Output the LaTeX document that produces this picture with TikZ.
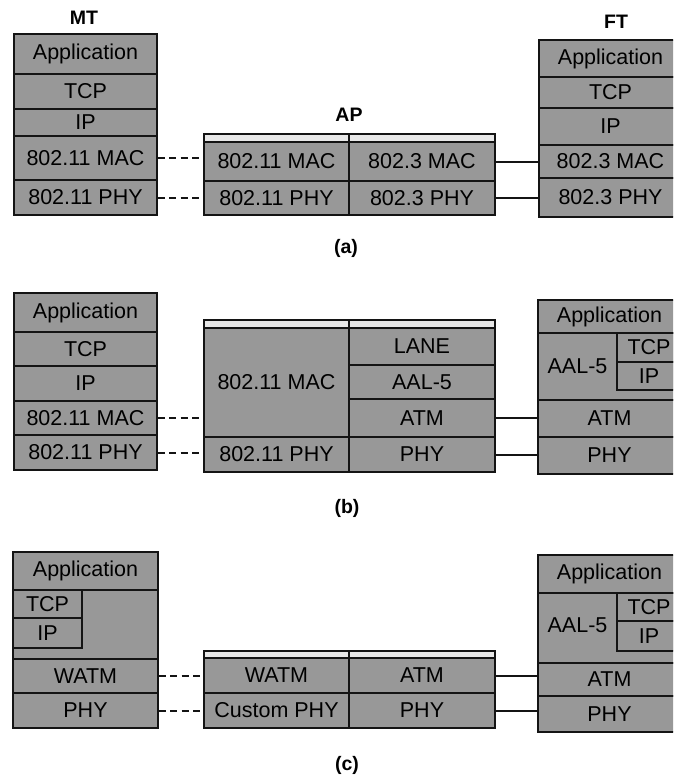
\documentclass[tikz,border=0pt]{standalone}
\usepackage{fontspec}
\setmainfont{Liberation Sans}
\definecolor{boxgray}{RGB}{152,152,152}
\definecolor{stripgray}{RGB}{232,232,232}
\definecolor{inkline}{RGB}{20,20,20}
\newcommand\mycell[7][cell]{%
  \pgfmathsetmacro\mycw{#5-#3}\pgfmathsetmacro\mych{#6-#4}%
  \node[#1, minimum width=\mycw pt, minimum height=\mych pt] (#2) at ({(#3+#5)/2},{(#4+#6)/2}) {#7};}
\begin{document}
\begin{tikzpicture}[x=1pt,y=-1pt,
  cell/.style={draw=inkline, line width=1.3pt, fill=boxgray, inner sep=0pt,
    font=\fontsize{21.5}{25}\selectfont, text=black},
  strip/.style={draw=inkline, line width=1.3pt, fill=stripgray, inner sep=0pt},
  lbl/.style={font=\bfseries\fontsize{19.5}{23}\selectfont, inner sep=0pt},
  celltext/.style={font=\fontsize{21.5}{25}\selectfont, text=black, inner sep=0pt},
  wireless/.style={line width=2pt, draw=inkline, dash pattern=on 7pt off 4.5pt},
  wired/.style={line width=2pt, draw=inkline}]
\useasboundingbox (0,0) rectangle (673,779);
\clip (0,0) rectangle (673,779);
\fill[white] (0,0) rectangle (673,779);

% ---------- (a) ----------
\node[lbl] (mtlabel) at (84,18) {MT};
\node[lbl] (aplabel) at (349,115) {AP};
\node[lbl] (ftlabel) at (616,22) {FT};

\mycell{mtA1}{14}{34}{157}{74}{Application}
\mycell{mtA2}{14}{74}{157}{109}{TCP}
\mycell{mtA3}{14}{109}{157}{136}{IP}
\mycell{mtA4}{14}{136}{157}{180}{802.11 MAC}
\mycell{mtA5}{14}{180}{157}{215}{802.11 PHY}

\mycell[strip]{apAs1}{204}{134}{349}{142}{}
\mycell[strip]{apAs2}{349}{134}{495}{142}{}
\mycell{apA1}{204}{142}{349}{181}{802.11 MAC}
\mycell{apA2}{349}{142}{495}{181}{802.3 MAC}
\mycell{apA3}{204}{181}{349}{215}{802.11 PHY}
\mycell{apA4}{349}{181}{495}{215}{802.3 PHY}

\mycell{ftA1}{539}{40}{682}{77}{Application}
\mycell{ftA2}{539}{77}{682}{108}{TCP}
\mycell{ftA3}{539}{108}{682}{145}{IP}
\mycell{ftA4}{539}{145}{682}{178}{802.3 MAC}
\mycell{ftA5}{539}{178}{682}{217}{802.3 PHY}

\draw[wireless] (mtA4.east) -- (mtA4.east -| apA1.west);
\draw[wireless] (mtA5.east) -- (mtA5.east -| apA3.west);
\draw[wired] (apA2.east) -- (apA2.east -| ftA4.west);
\draw[wired] (apA4.east) -- (apA4.east -| ftA5.west);

\node[lbl] (capa) at (346,248) {(a)};

% ---------- (b) ----------
\mycell{mtB1}{14}{293}{157}{332}{Application}
\mycell{mtB2}{14}{332}{157}{366}{TCP}
\mycell{mtB3}{14}{366}{157}{401}{IP}
\mycell{mtB4}{14}{401}{157}{435}{802.11 MAC}
\mycell{mtB5}{14}{435}{157}{470}{802.11 PHY}

\mycell[strip]{apBs1}{204}{320}{349}{328}{}
\mycell[strip]{apBs2}{349}{320}{495}{328}{}
\mycell{apB1}{204}{328}{349}{437}{802.11 MAC}
\mycell{apB2}{204}{437}{349}{472}{802.11 PHY}
\mycell{apB3}{349}{328}{495}{365}{LANE}
\mycell{apB4}{349}{365}{495}{399}{AAL-5}
\mycell{apB5}{349}{399}{495}{437}{ATM}
\mycell{apB6}{349}{437}{495}{472}{PHY}

\mycell{ftB1}{538}{300}{681}{333}{Application}
\mycell{ftB2}{538}{333}{681}{400}{}
\node[celltext] (ftBaal) at (577.5,366) {AAL-5};
\mycell{ftB3}{617}{333}{681}{362}{TCP}
\mycell{ftB4}{617}{362}{681}{390}{IP}
\mycell{ftB5}{538}{400}{681}{437}{ATM}
\mycell{ftB6}{538}{437}{681}{474}{PHY}

\draw[wireless] (mtB4.east) -- (mtB4.east -| apB1.west);
\draw[wireless] (mtB5.east) -- (mtB5.east -| apB2.west);
\draw[wired] (apB5.east) -- (apB5.east -| ftB5.west);
\draw[wired] (apB6.east) -- (apB6.east -| ftB6.west);

\node[lbl] (capb) at (347,508) {(b)};

% ---------- (c) ----------
\mycell{mtC1}{13}{552}{158}{590}{Application}
\mycell{mtC2}{13}{590}{158}{659}{}
\mycell{mtC3}{13}{590}{82}{618}{TCP}
\mycell{mtC4}{13}{618}{82}{648}{IP}
\mycell{mtC5}{13}{659}{158}{693}{WATM}
\mycell{mtC6}{13}{693}{158}{728}{PHY}

\mycell[strip]{apCs1}{204}{651}{349}{658}{}
\mycell[strip]{apCs2}{349}{651}{495}{658}{}
\mycell{apC1}{204}{658}{349}{693}{WATM}
\mycell{apC2}{349}{658}{495}{693}{ATM}
\mycell{apC3}{204}{693}{349}{728}{Custom PHY}
\mycell{apC4}{349}{693}{495}{728}{PHY}

\mycell{ftC1}{538}{555}{681}{593}{Application}
\mycell{ftC2}{538}{593}{681}{663}{}
\node[celltext] (ftCaal) at (577.5,625) {AAL-5};
\mycell{ftC3}{617}{593}{681}{621}{TCP}
\mycell{ftC4}{617}{621}{681}{651}{IP}
\mycell{ftC5}{538}{663}{681}{696}{ATM}
\mycell{ftC6}{538}{696}{681}{732}{PHY}

\draw[wireless] (mtC5.east) -- (mtC5.east -| apC1.west);
\draw[wireless] (mtC6.east) -- (mtC6.east -| apC3.west);
\draw[wired] (apC2.east) -- (apC2.east -| ftC5.west);
\draw[wired] (apC4.east) -- (apC4.east -| ftC6.west);

\node[lbl] (capc) at (347,765) {(c)};
\end{tikzpicture}
\end{document}
